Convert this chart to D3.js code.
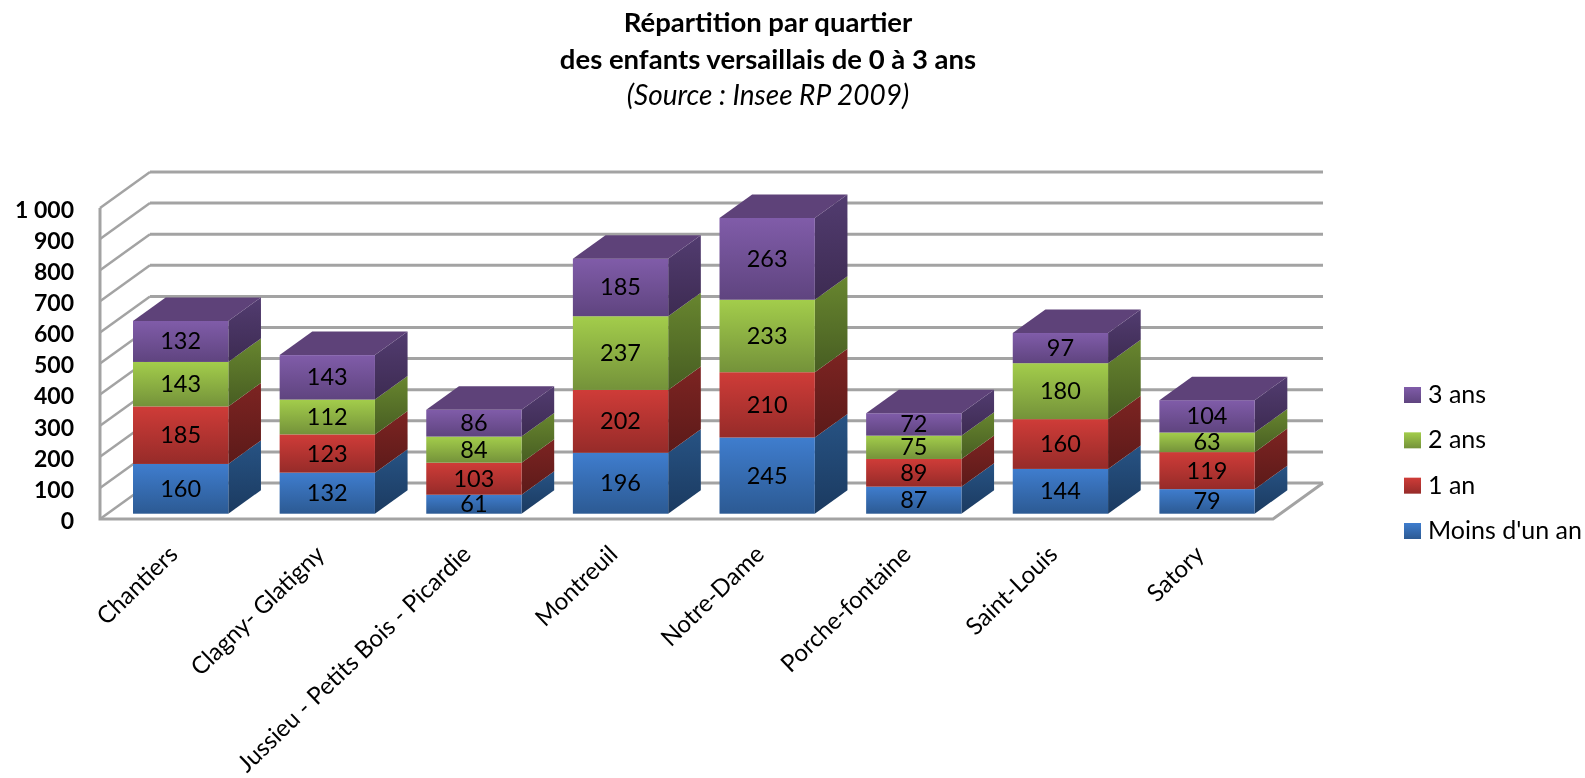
<!DOCTYPE html>
<html lang="fr">
<head>
    <meta charset="UTF-8">
    <title>Répartition par quartier</title>
    <script src="https://d3js.org/d3.v7.min.js"></script>
    <style>
        html, body { margin: 0; padding: 0; background: #fff; overflow: hidden; }
        svg { display: block; filter: blur(0.45px); }
        text { font-family: Lato, "Open Sans", sans-serif; fill: #000; }
    </style>
</head>
<body>
    <div id="chart"></div>

    <script>
        var quartiers = ["Chantiers", "Clagny- Glatigny", "Jussieu - Petits Bois - Picardie", "Montreuil",
            "Notre-Dame", "Porche-fontaine", "Saint-Louis", "Satory"];
        var moinsUnAn = [160, 132, 61, 196, 245, 87, 144, 79];
        var unAn = [185, 123, 103, 202, 210, 89, 160, 119];
        var deuxAns = [143, 112, 84, 237, 233, 75, 180, 63];
        var troisAns = [132, 143, 86, 185, 263, 72, 97, 104];
        var seriesNames = ["Moins d'un an", "1 an", "2 ans", "3 ans"];
        var titleLines = ["Répartition par quartier", "des enfants versaillais de 0 à 3 ans", "(Source : Insee RP 2009)"];

        var width = 1585;
        var height = 778;

        // front top, front bottom, side top, side bottom, top face
        var shades = [
            ["#3f7dce", "#2c5a93", "#275384", "#1b3a60", "#27507e"],
            ["#cf3c38", "#962b29", "#7d2422", "#5c1a19", "#7d2422"],
            ["#a3cd4b", "#74923a", "#68862f", "#475d22", "#68862f"],
            ["#805ca9", "#5f447f", "#523c70", "#3d2b52", "#5e4279"]
        ];

        var rows = quartiers.map(function (q, i) {
            return { q: q, 0: moinsUnAn[i], 1: unAn[i], 2: deuxAns[i], 3: troisAns[i] };
        });
        var stacked = d3.stack().keys([0, 1, 2, 3])(rows);

        var xScale = d3.scaleBand().domain(quartiers).range([100, 1273]).paddingInner(0.35).paddingOuter(0.175);
        var yScale = d3.scaleLinear().domain([0, 1000]).range([519, 208]);
        // depth of the 3d box: 0 = front edge of the floor, 1 = back wall
        var zx = d3.scaleLinear().domain([0, 1]).range([0, 50]);
        var zy = d3.scaleLinear().domain([0, 1]).range([0, -36]);
        var barFront = 0.147;
        var barBack = 0.8;

        function pt(x, v, z) {
            return [x + zx(z), yScale(v) + zy(z)];
        }
        var poly = d3.line();

        var svg = d3.select("#chart").append("svg").attr("width", width).attr("height", height);
        var defs = svg.append("defs");

        function grad(id, c1, c2) {
            var g = defs.append("linearGradient").attr("id", id).attr("x1", 0).attr("y1", 0).attr("x2", 0).attr("y2", 1);
            g.append("stop").attr("offset", "0%").attr("stop-color", c1);
            g.append("stop").attr("offset", "100%").attr("stop-color", c2);
        }
        shades.forEach(function (s, i) {
            grad("front" + i, s[0], s[1]);
            grad("side" + i, s[2], s[3]);
        });

        // walls
        var ticks = yScale.ticks(10);
        var xl = xScale.range()[0];
        var xr = xScale.range()[1];
        var walls = svg.append("g").attr("fill", "none").attr("stroke", "#a3a3a3");
        walls.selectAll(".back").data(ticks).enter().append("path")
            .attr("stroke-width", 3)
            .attr("d", function (d) { return poly([pt(xl, d, 1), pt(xr, d, 1)]); });
        walls.selectAll(".left").data(ticks).enter().append("path")
            .attr("stroke-width", 2.5)
            .attr("d", function (d) { return poly([pt(xl, d, 0), pt(xl, d, 1)]); });
        walls.append("path").attr("stroke-width", 3)
            .attr("d", poly([pt(xl, 1000, 0), pt(xl, 0, 0), pt(xr, 0, 0), pt(xr, 0, 1)]));

        // bars
        var bars = svg.append("g");
        quartiers.forEach(function (q, i) {
            var x0 = xScale(q) + zx(barFront);
            var w = xScale.bandwidth();
            stacked.forEach(function (layer, s) {
                var lo = layer[i][0], hi = layer[i][1];
                bars.append("path")
                    .attr("fill", "url(#side" + s + ")")
                    .attr("d", poly([
                        pt(xScale(q) + w, lo, barFront), pt(xScale(q) + w, hi, barFront),
                        pt(xScale(q) + w, hi, barBack), pt(xScale(q) + w, lo, barBack)
                    ]) + "Z");
                bars.append("rect")
                    .attr("x", x0)
                    .attr("y", pt(0, hi, barFront)[1])
                    .attr("width", w)
                    .attr("height", yScale(lo) - yScale(hi))
                    .attr("fill", "url(#front" + s + ")");
                if (s === stacked.length - 1) {
                    bars.append("path")
                        .attr("fill", shades[s][4])
                        .attr("d", poly([
                            pt(xScale(q), hi, barFront), pt(xScale(q) + w, hi, barFront),
                            pt(xScale(q) + w, hi, barBack), pt(xScale(q), hi, barBack)
                        ]) + "Z");
                }
                bars.append("text")
                    .attr("x", x0 + w / 2)
                    .attr("y", pt(0, (lo + hi) / 2, barFront)[1] + 8)
                    .attr("text-anchor", "middle")
                    .attr("font-size", 23.5)
                    .text(hi - lo);
            });
        });

        // y axis
        var yAxis = d3.axisLeft(yScale).ticks(10).tickSize(0).tickPadding(0)
            .tickFormat(function (d) { return d === 1000 ? "1 000" : d; });
        var yG = svg.append("g").attr("transform", "translate(74,2)").call(yAxis);
        yG.select(".domain").remove();
        yG.selectAll("text")
            .attr("font-size", 23).attr("font-weight", 700)
            .style("font-family", "Lato, sans-serif").style("fill", "#000");

        // category axis
        var xAxis = d3.axisBottom(xScale).tickSize(0).tickPadding(0);
        var xG = svg.append("g").attr("transform", "translate(0,550)").call(xAxis);
        xG.select(".domain").remove();
        xG.selectAll("text")
            .attr("font-size", 24)
            .attr("text-anchor", "end")
            .attr("dy", "0.35em")
            .attr("y", 0)
            .attr("transform", "rotate(-44)")
            .style("font-family", "Lato, sans-serif").style("fill", "#000");

        // legend
        var legendY = d3.scalePoint().domain(seriesNames.slice().reverse()).range([395, 531]);
        seriesNames.forEach(function (name, s) {
            svg.append("rect")
                .attr("x", 1404).attr("y", legendY(name) - 8)
                .attr("width", 17).attr("height", 16)
                .attr("fill", "url(#front" + s + ")");
            svg.append("text")
                .attr("x", 1428).attr("y", legendY(name) + 8)
                .attr("font-size", 25)
                .text(name);
        });

        // title
        svg.selectAll(".title").data(titleLines).enter().append("text")
            .attr("x", 768)
            .attr("y", function (d, i) { return 32 + i * 36.5; })
            .attr("text-anchor", "middle")
            .attr("font-size", function (d, i) { return i < 2 ? 27.5 : 28; })
            .attr("font-weight", function (d, i) { return i < 2 ? 700 : 400; })
            .attr("font-style", function (d, i) { return i < 2 ? "normal" : "italic"; })
            .text(function (d) { return d; });
    </script>
</body>
</html>
